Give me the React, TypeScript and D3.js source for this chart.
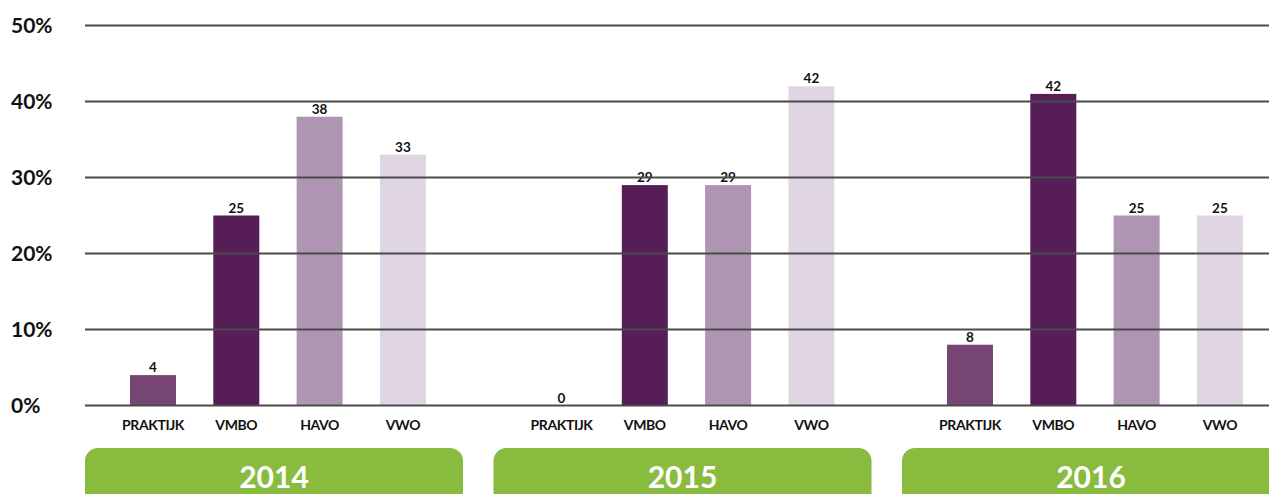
import React from "react";
import * as d3 from "d3";

const years = ["2014", "2015", "2016"];
const categories = ["PRAKTIJK", "VMBO", "HAVO", "VWO"];
const barValues2014 = [4, 25, 38, 33];
const barValues2015 = [0, 29, 29, 42];
const barValues2016 = [8, 41, 25, 25];
const labels2014 = ["4", "25", "38", "33"];
const labels2015 = ["0", "29", "29", "42"];
const labels2016 = ["8", "42", "25", "25"];
const yTicks = [0, 10, 20, 30, 40, 50];

const colors = ["#774574", "#561d57", "#ae95b2", "#e0d6e3"];

const W = 1269;
const H = 494;
const FONT = "Lato, 'Open Sans', sans-serif";

export default function App() {
  const barValues = [barValues2014, barValues2015, barValues2016];
  const labels = [labels2014, labels2015, labels2016];

  const y = d3.scaleLinear().domain([0, 50]).range([405.5, 25.5]);
  const groupStep = 408.5;
  const gx = d3
    .scaleBand<string>()
    .domain(years)
    .range([85, 85 + groupStep * years.length])
    .paddingInner(0)
    .paddingOuter(0);
  const cx = d3.scalePoint<string>().domain(categories).range([68, 68 + 3 * 83.3]);
  const barW = 46;

  return (
    <svg
      width={W}
      height={H}
      style={{ position: "absolute", left: 0, top: 0, background: "#fff" }}
      fontFamily={FONT}
    >
      {years.map((yr, gi) => (
        <g key={yr} transform={`translate(${gx(yr)},0)`}>
          {categories.map((c, ci) => {
            const v = barValues[gi][ci];
            const x = (cx(c) as number) - barW / 2;
            return (
              <g key={c}>
                <rect x={x} y={y(v)} width={barW} height={y(0) - y(v)} fill={colors[ci]} />
                <text
                  x={cx(c)}
                  y={y(v) - 3}
                  textAnchor="middle"
                  fontSize={13.5}
                  fontWeight="bold"
                  fill="#111"
                >
                  {labels[gi][ci]}
                </text>
                <text
                  x={cx(c)}
                  y={430}
                  textAnchor="middle"
                  fontSize={14}
                  fontWeight="bold"
                  letterSpacing={-0.4}
                  fill="#111"
                >
                  {c}
                </text>
              </g>
            );
          })}
          <rect x={0} y={448} width={378} height={70} rx={13} ry={13} fill="#89bb3f" />
          <text
            x={189}
            y={488}
            textAnchor="middle"
            fontSize={30}
            fontWeight="bold"
            fill="#fff"
          >
            {yr}
          </text>
        </g>
      ))}
      {yTicks.map((t) => (
        <g key={t}>
          <line x1={85} x2={W} y1={y(t)} y2={y(t)} stroke="#4a4a4a" strokeWidth={2} />
          <text
            x={11}
            y={y(t)}
            dy="0.35em"
            fontSize={21}
            fontWeight="bold"
            fill="#111"
          >
            {`${t}%`}
          </text>
        </g>
      ))}
    </svg>
  );
}
